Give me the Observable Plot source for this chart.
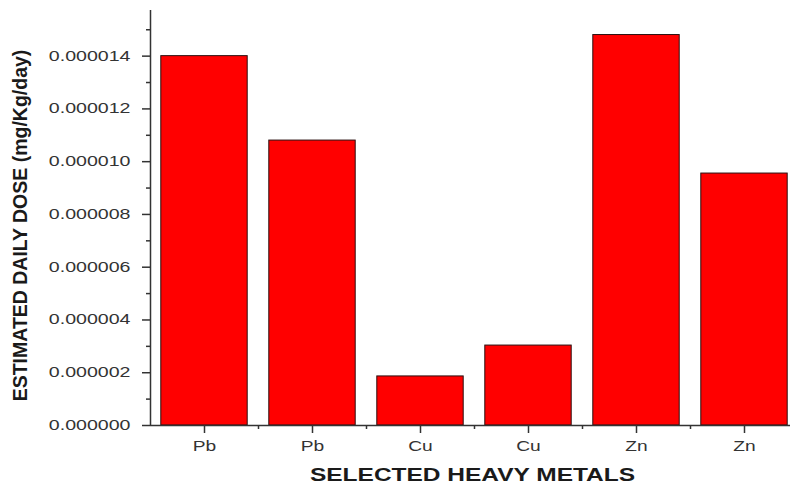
<!DOCTYPE html>
<html>
<head>
<meta charset="utf-8">
<script src="https://cdn.jsdelivr.net/npm/d3@7"></script>
<script src="https://cdn.jsdelivr.net/npm/@observablehq/plot@0.6"></script>
<style>
  html, body { margin: 0; padding: 0; background: #fff; }
  #chart svg { display: block; }
</style>
</head>
<body>
<div id="chart"></div>
<script>
// Data
const metals = ["Pb", "Pb", "Cu", "Cu", "Zn", "Zn"];
const doses = [0.0000140, 0.0000108, 0.00000186, 0.00000303, 0.0000148, 0.00000955];
const yMajorTicks = [0, 0.000002, 0.000004, 0.000006, 0.000008, 0.000010, 0.000012, 0.000014];
const yMinorTicks = [0.000001, 0.000003, 0.000005, 0.000007, 0.000009, 0.000011, 0.000013, 0.000015];
const yTitle = "ESTIMATED DAILY DOSE (mg/Kg/day)";
const xTitle = "SELECTED HEAVY METALS";

const positions = metals.map((_, i) => i + 1);
const boundaries = positions.slice(0, -1).map(p => p + 0.5);
const data = metals.map((m, i) => ({pos: i + 1, metal: m, dose: doses[i]}));

const W = 790, H = 484;
const plot = Plot.plot({
  width: W,
  height: H,
  marginLeft: 150,
  marginRight: 0,
  marginTop: 10,
  marginBottom: 59,
  style: {fontFamily: "'Liberation Sans', Arial, sans-serif", fontSize: "14px", color: "#333", background: "#fff"},
  x: {domain: [0.5, 6.5], range: [150, 798]},
  y: {domain: [0, 0.00001573]},
  marks: [
    Plot.rectY(data, {x1: d => d.pos - 0.4, x2: d => d.pos + 0.4, y: "dose", fill: "#ff0000", stroke: "#2a1010", strokeWidth: 1}),
    Plot.ruleY([0], {stroke: "#333", strokeWidth: 1.5}),
    Plot.ruleX([0.5], {stroke: "#333", strokeWidth: 1.5}),
    Plot.axisY({ticks: yMajorTicks, tickFormat: d3.format(".6f"), tickSize: 8, tickPadding: 12, label: null, stroke: "#333", strokeWidth: 1.5}),
    Plot.axisY({ticks: yMinorTicks, tickSize: 4, text: null, label: null, stroke: "#333", strokeWidth: 1.5}),
    Plot.axisX({ticks: positions, tickFormat: p => metals[p - 1], tickSize: 8, tickPadding: 8, label: null, stroke: "#333", strokeWidth: 1.5}),
    Plot.axisX({ticks: boundaries, tickSize: 4, text: null, label: null, stroke: "#333", strokeWidth: 1.5}),
    Plot.text([xTitle], {frameAnchor: "bottom", dx: 2, dy: 49, lineAnchor: "middle", text: d => d, fontWeight: "bold", fontSize: 19, fill: "#1a1a1a"}),
    Plot.text([yTitle], {frameAnchor: "left", textAnchor: "middle", dx: -130, dy: 7.5, rotate: -90, text: d => d, fontWeight: "bold", fontSize: 19.5, fill: "#1a1a1a"})
  ]
});

// Horizontal stretch of the text (the reference text is widened)
function stretch(sel, sx, sy) {
  sel.each(function() {
    const t = this.getAttribute("transform") || "";
    this.setAttribute("transform", `${t} scale(${sx},${sy})`);
  });
}
const svg = d3.select(plot);
stretch(svg.selectAll('g[aria-label="y-axis tick label"] text'), 1.4, 1);
stretch(svg.selectAll('g[aria-label="x-axis tick label"] text'), 1.37, 1);
stretch(svg.selectAll("text").filter(function() { return this.textContent === xTitle; }), 1.29, 1);
stretch(svg.selectAll("text").filter(function() { return this.textContent === yTitle; }), 1, 1.05);

document.getElementById("chart").appendChild(plot);
</script>
</body>
</html>
